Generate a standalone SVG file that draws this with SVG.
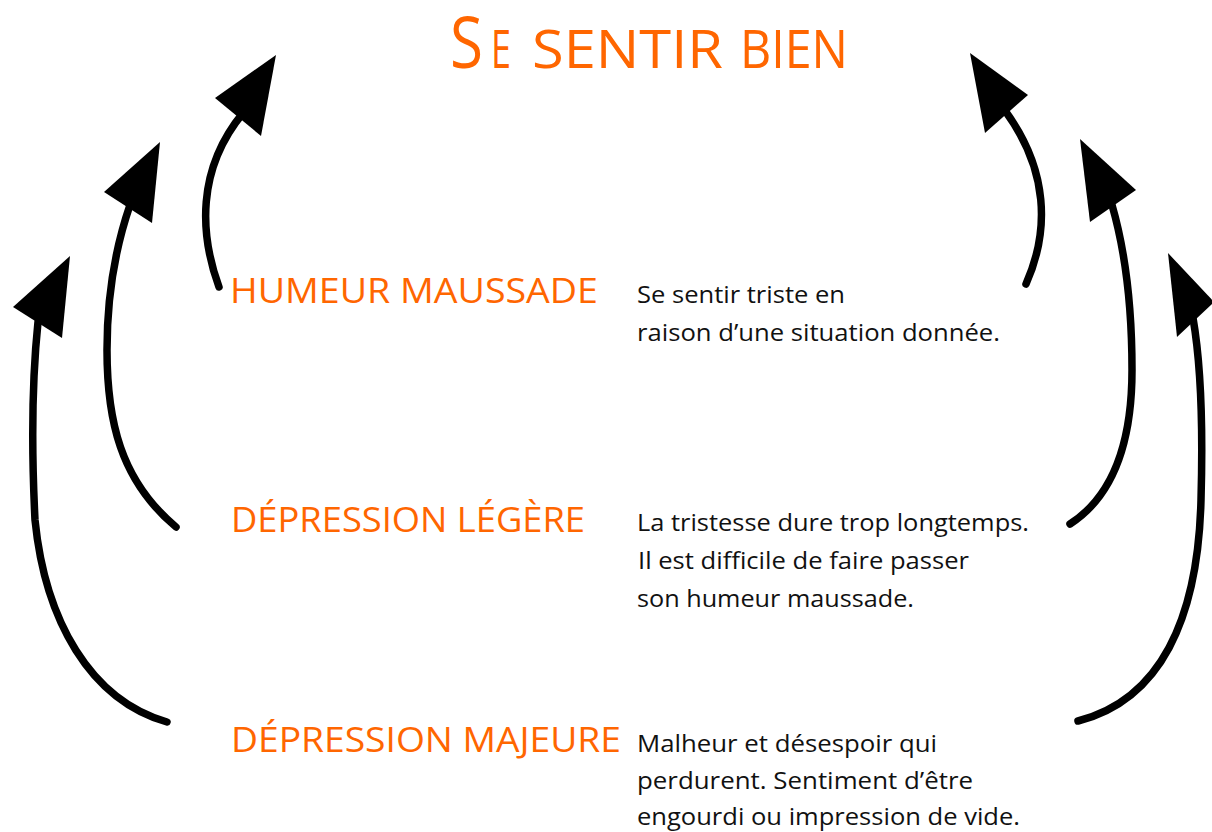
<svg xmlns="http://www.w3.org/2000/svg" width="1212" height="832" viewBox="0 0 1212 832">
<style>
.t{font-family:"Open Sans","Noto Sans","Liberation Sans",sans-serif;fill:#FF6600}
.h{font-size:35px}
.b{font-family:"Open Sans","Noto Sans","Liberation Sans",sans-serif;font-size:23.5px;fill:#111}
.shaft{fill:none;stroke:#000;stroke-width:7.5;stroke-linecap:round}
.head{fill:#000}
</style>
<rect width="1212" height="832" fill="#fff"/>
<g id="title">
<text class="t" y="68"><tspan x="450" font-size="71" textLength="33" lengthAdjust="spacingAndGlyphs">S</tspan><tspan x="491" font-size="53" textLength="20" lengthAdjust="spacingAndGlyphs">E</tspan><tspan x="532" font-size="53" textLength="191" lengthAdjust="spacingAndGlyphs">SENTIR</tspan><tspan x="740" font-size="53" textLength="108" lengthAdjust="spacingAndGlyphs">BIEN</tspan></text>
</g>
<g id="humeur">
<text class="t h" x="230" y="303" textLength="368" lengthAdjust="spacingAndGlyphs">HUMEUR MAUSSADE</text>
<text class="b" x="637" y="303" textLength="208" lengthAdjust="spacingAndGlyphs">Se sentir triste en</text>
<text class="b" x="637" y="341" textLength="363" lengthAdjust="spacingAndGlyphs">raison d’une situation donnée.</text>
</g>
<g id="legere">
<text class="t h" x="231" y="532" textLength="354" lengthAdjust="spacingAndGlyphs">DÉPRESSION LÉGÈRE</text>
<text class="b" x="637" y="531" textLength="392" lengthAdjust="spacingAndGlyphs">La tristesse dure trop longtemps.</text>
<text class="b" x="638" y="569" textLength="331" lengthAdjust="spacingAndGlyphs">Il est difficile de faire passer</text>
<text class="b" x="637" y="607" textLength="277" lengthAdjust="spacingAndGlyphs">son humeur maussade.</text>
</g>
<g id="majeure">
<text class="t h" x="231" y="752" textLength="390" lengthAdjust="spacingAndGlyphs">DÉPRESSION MAJEURE</text>
<text class="b" x="637" y="752" textLength="300" lengthAdjust="spacingAndGlyphs">Malheur et désespoir qui</text>
<text class="b" x="637" y="789" textLength="336" lengthAdjust="spacingAndGlyphs">perdurent. Sentiment d’être</text>
<text class="b" x="637" y="825" textLength="383" lengthAdjust="spacingAndGlyphs">engourdi ou impression de vide.</text>
</g>
<g id="connectors">
<path class="shaft" d="M219,287 C200,235 196,170 243,113"/>
<polygon class="head" points="276,55 215,98 261,136"/>
<path class="shaft" d="M176,527 C120,480 107,420 107,350 C107,290 118,240 130,205"/>
<polygon class="head" points="160,142 104,192 152,223"/>
<path class="shaft" d="M167,722 C90,700 45,620 35,520 C31,440 32,380 38,322"/>
<polygon class="head" points="70,256 13,307 62,338"/>
<path class="shaft" d="M1026,284 C1050,230 1048,170 1006,112"/>
<polygon class="head" points="970,53 1028,95 985,133"/>
<path class="shaft" d="M1070,524 C1115,495 1132,440 1132,370 C1132,300 1125,250 1112,205"/>
<polygon class="head" points="1080,139 1136,190 1090,222"/>
<path class="shaft" d="M1078,721 C1160,700 1198,620 1201,500 C1203,430 1202,370 1193,318"/>
<polygon class="head" points="1168,253 1214,302 1177,337"/>
</g>
</svg>
